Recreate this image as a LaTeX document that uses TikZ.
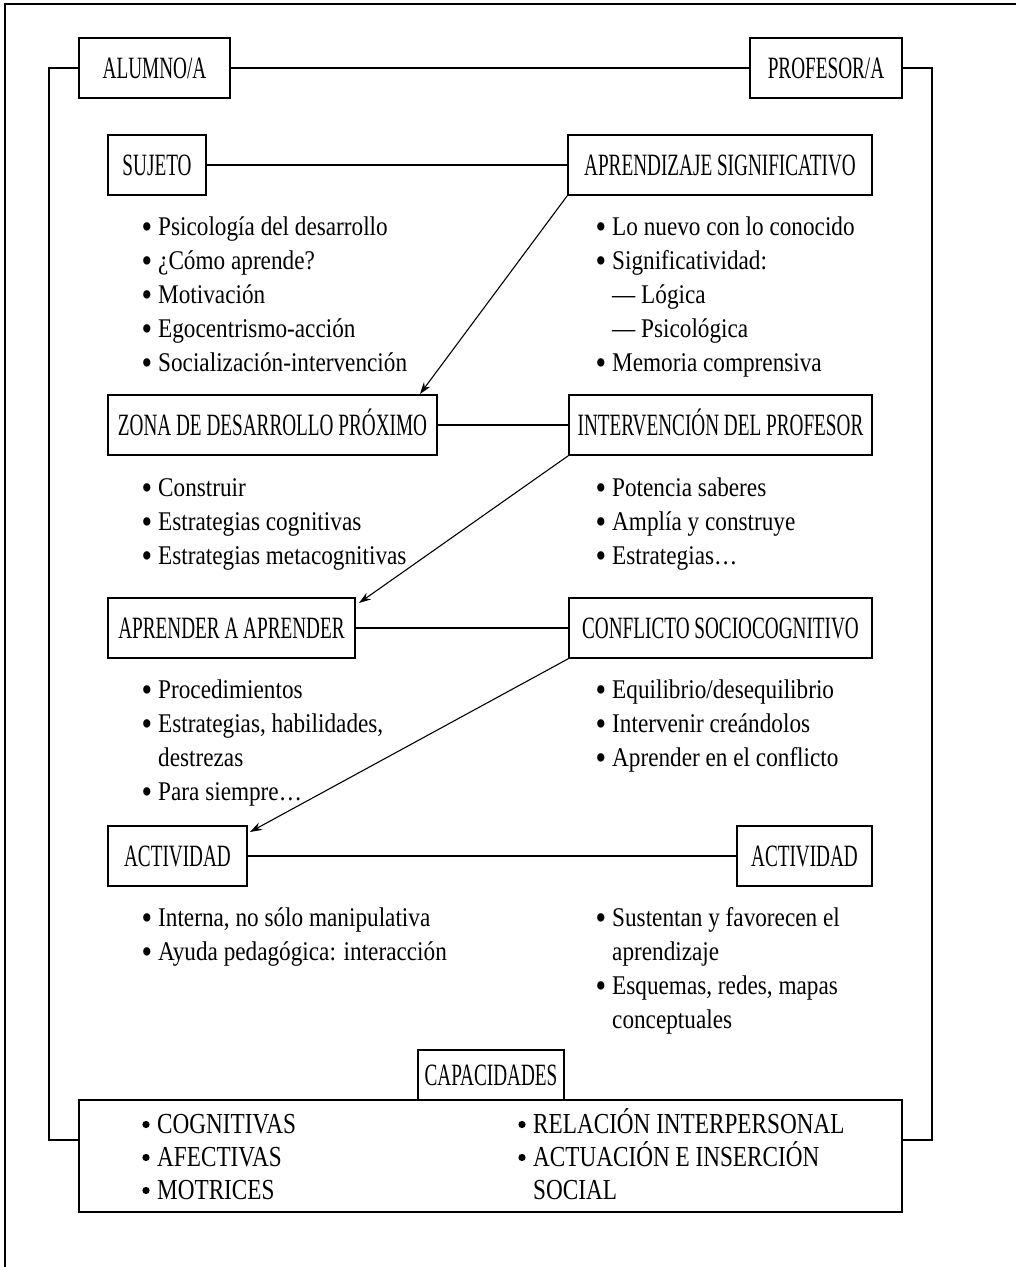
\documentclass[tikz,border=0pt]{standalone}
\usepackage{fontspec}
\usepackage{graphicx}
\usetikzlibrary{arrows.meta}
\newfontfamily\bodyfont[FakeStretch=0.86]{Liberation Serif}
\newfontfamily\boxfont[FakeStretch=0.62]{Liberation Serif}
\newfontfamily\capfont[FakeStretch=0.8]{Liberation Serif}
% bullet hanging to the left of the item text, centred on the x-height
\newcommand\itembul{\llap{\scalebox{1.3}{\raisebox{-2.6pt}{\textbullet}}\hspace{6pt}}}

\begin{document}
\begin{tikzpicture}[x=1pt,y=-1pt,
  box/.style={draw, line width=1.4pt, inner sep=0pt, minimum height=60pt,
    text height=21pt, text depth=0pt,
    font=\boxfont\fontsize{31}{36}\selectfont},
  link/.style={line width=1.1pt},
  flow/.style={line width=1.1pt, -{Stealth[length=12pt,width=8pt]}},
  item/.style={anchor=base west, inner sep=0pt,
    font=\bodyfont\fontsize{27}{34}\selectfont},
  capitem/.style={anchor=base west, inner sep=0pt,
    font=\capfont\fontsize{29}{33}\selectfont},
  dot/.style={fill=black},
]
\useasboundingbox (0,0) rectangle (1016,1267);

% outer frame (top and left edges)
\draw[line width=1.8pt] (5,1267) -- (5,4) -- (1016,4);

% header boxes
\node[box, minimum width=151pt] (alumno)   at (154.5,68) {ALUMNO/A};
\node[box, minimum width=152pt] (profesor) at (826,68)   {PROFESOR/A};

% concept boxes
\node[box, minimum width=98pt]  (sujeto)    at (157,165)   {SUJETO};
\node[box, minimum width=304pt] (signif)    at (720,165)   {APRENDIZAJE SIGNIFICATIVO};
\node[box, minimum width=329pt] (zona)      at (272.5,425) {ZONA DE DESARROLLO PRÓXIMO};
\node[box, minimum width=303pt] (interv)    at (720.5,425) {INTERVENCIÓN DEL PROFESOR};
\node[box, minimum width=247pt] (aprender)  at (231.5,628) {APRENDER A APRENDER};
\node[box, minimum width=303pt] (conflicto) at (720.5,628) {CONFLICTO SOCIOCOGNITIVO};
\node[box, minimum width=139pt] (actA)      at (177.5,856) {ACTIVIDAD};
\node[box, minimum width=135pt] (actB)      at (804.5,856) {ACTIVIDAD};

% capacities
\node[box, minimum width=823pt, minimum height=112pt] (capbox) at (490.5,1156) {};
\node[box, minimum width=146pt, minimum height=50pt] (capac) at (491,1075) {CAPACIDADES};

% horizontal links
\draw[link] (alumno) -- (profesor);
\draw[link] (sujeto) -- (signif);
\draw[link] (zona) -- (interv);
\draw[link] (aprender) -- (conflicto);
\draw[link] (actA) -- (actB);

% side brackets down to the capacities box
\coordinate (cornerL) at (49,1140);
\coordinate (cornerR) at (932,1140);
\draw[link] (alumno.west) -| (cornerL) -- (cornerL -| capbox.west);
\draw[link] (profesor.east) -| (cornerR) -- (cornerR -| capbox.east);

% diagonal arrows
\coordinate (tipA) at (420,394);
\coordinate (tipB) at (359,603);
\coordinate (tipC) at (250,832);
\draw[flow] (signif.south west) -- (tipA);
\draw[flow] (interv.south west) -- (tipB);
\draw[flow] (conflicto.south west) -- (tipC);

% lists: sujeto
\node[item] (s1) at (158,235) {\itembul Psicología del desarrollo};
\node[item] (s2) at (158,269) {\itembul ¿Cómo aprende?};
\node[item] (s3) at (158,303) {\itembul Motivación};
\node[item] (s4) at (158,337) {\itembul Egocentrismo-acción};
\node[item] (s5) at (158,371) {\itembul Socialización-intervención};

% lists: aprendizaje significativo
\node[item] (g1) at (612,235) {\itembul Lo nuevo con lo conocido};
\node[item] (g2) at (612,269) {\itembul Significatividad:};
\node[item] (g3) at (612,303) {— Lógica};
\node[item] (g4) at (612,337) {— Psicológica};
\node[item] (g5) at (612,371) {\itembul Memoria comprensiva};

% lists: zona de desarrollo
\node[item] (z1) at (158,496) {\itembul Construir};
\node[item] (z2) at (158,530) {\itembul Estrategias cognitivas};
\node[item] (z3) at (158,564) {\itembul Estrategias metacognitivas};

% lists: intervención
\node[item] (i1) at (612,496) {\itembul Potencia saberes};
\node[item] (i2) at (612,530) {\itembul Amplía y construye};
\node[item] (i3) at (612,564) {\itembul Estrategias…};

% lists: aprender a aprender
\node[item] (a1) at (158,698) {\itembul Procedimientos};
\node[item] (a2) at (158,732) {\itembul Estrategias, habilidades,};
\node[item] (a3) at (158,766) {destrezas};
\node[item] (a4) at (158,800) {\itembul Para siempre…};

% lists: conflicto
\node[item] (c1) at (612,698) {\itembul Equilibrio/desequilibrio};
\node[item] (c2) at (612,732) {\itembul Intervenir creándolos};
\node[item] (c3) at (612,766) {\itembul Aprender en el conflicto};

% lists: actividad
\node[item] (v1) at (158,926) {\itembul Interna, no sólo manipulativa};
\node[item] (v2) at (158,960) {\itembul Ayuda pedagógica: interacción};
\node[item] (w1) at (612,926) {\itembul Sustentan y favorecen el};
\node[item] (w2) at (612,960) {aprendizaje};
\node[item] (w3) at (612,994) {\itembul Esquemas, redes, mapas};
\node[item] (w4) at (612,1028) {conceptuales};

% capacities list
\node[capitem] (k1) at (157,1133) {COGNITIVAS};
\node[capitem] (k2) at (157,1166) {AFECTIVAS};
\node[capitem] (k3) at (157,1199) {MOTRICES};
\node[capitem] (k4) at (533,1133) {RELACIÓN INTERPERSONAL};
\node[capitem] (k5) at (533,1166) {ACTUACIÓN E INSERCIÓN};
\node[capitem] (k6) at (533,1199) {SOCIAL};
\foreach \k in {k1,k2,k3,k4,k5}
  \fill[dot] ([shift={(-11,-8.5)}]\k.base west) circle (3.6pt);
\end{tikzpicture}
\end{document}
